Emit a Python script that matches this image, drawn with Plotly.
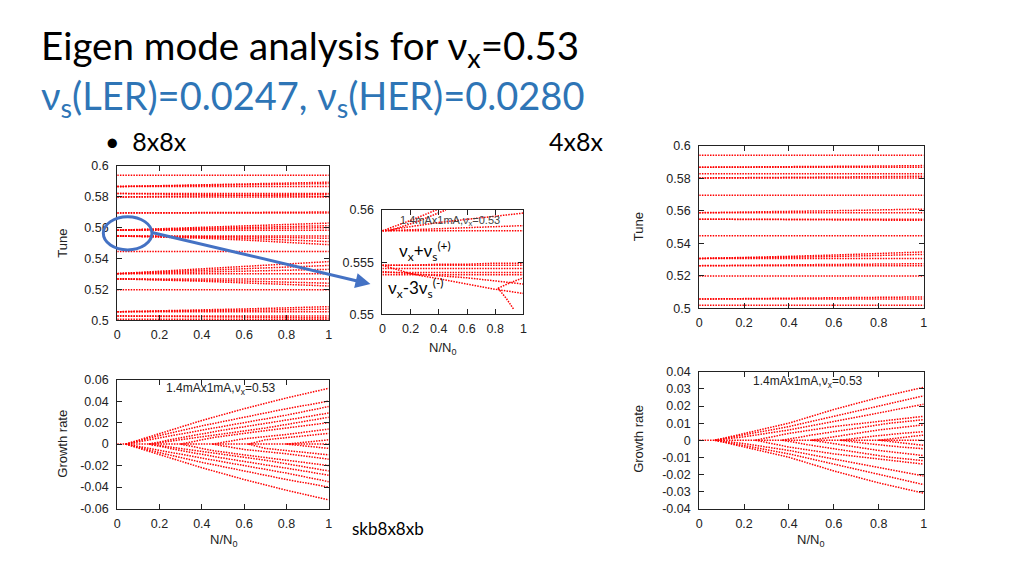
import plotly.graph_objects as go

# ---------------- data ----------------
TUNE_X = [0, 0.2, 0.4, 0.6, 0.8, 1.0]

# 8x8x tune curves (values at TUNE_X)
tune_8x8x = [
    [0.5941, 0.5941, 0.5941, 0.5941, 0.5941, 0.5941],
    [0.5867, 0.5867, 0.5867, 0.5867, 0.5867, 0.5867],
    [0.5867, 0.5872, 0.5878, 0.5884, 0.5889, 0.5895],
    [0.5867, 0.5870, 0.5874, 0.5878, 0.5882, 0.5886],
    [0.5822, 0.5822, 0.5822, 0.5822, 0.5822, 0.5822],
    [0.5822, 0.5819, 0.5815, 0.5811, 0.5807, 0.5803],
    [0.5799, 0.5799, 0.5799, 0.5799, 0.5799, 0.5799],
    [0.5799, 0.5802, 0.5806, 0.5810, 0.5814, 0.5818],
    [0.5696, 0.5696, 0.5696, 0.5696, 0.5696, 0.5696],
    [0.5696, 0.5696, 0.5697, 0.5698, 0.5700, 0.5702],
    [0.5584, 0.5584, 0.5584, 0.5584, 0.5584, 0.5584],
    [0.5584, 0.5594, 0.5604, 0.5613, 0.5622, 0.5630],
    [0.5584, 0.5589, 0.5596, 0.5602, 0.5608, 0.5613],
    [0.5584, 0.5586, 0.5590, 0.5594, 0.5597, 0.5600],
    [0.5546, 0.5546, 0.5546, 0.5546, 0.5546, 0.5546],
    [0.5546, 0.5540, 0.5532, 0.5520, 0.5503, 0.5490],
    [0.5546, 0.5543, 0.5538, 0.5531, 0.5521, 0.5510],
    [0.5546, 0.5545, 0.5543, 0.5540, 0.5536, 0.5531],
    [0.5446, 0.5446, 0.5446, 0.5446, 0.5446, 0.5446],
    [0.5302, 0.5302, 0.5302, 0.5302, 0.5302, 0.5302],
    [0.5302, 0.5318, 0.5335, 0.5350, 0.5366, 0.5380],
    [0.5302, 0.5312, 0.5323, 0.5334, 0.5345, 0.5355],
    [0.5302, 0.5306, 0.5312, 0.5318, 0.5324, 0.5330],
    [0.5268, 0.5268, 0.5268, 0.5268, 0.5268, 0.5268],
    [0.5268, 0.5262, 0.5253, 0.5242, 0.5232, 0.5222],
    [0.5268, 0.5265, 0.5260, 0.5254, 0.5247, 0.5240],
    [0.5197, 0.5197, 0.5197, 0.5197, 0.5197, 0.5197],
    [0.5055, 0.5055, 0.5055, 0.5055, 0.5055, 0.5055],
    [0.5055, 0.5060, 0.5066, 0.5073, 0.5080, 0.5088],
    [0.5055, 0.5057, 0.5060, 0.5064, 0.5068, 0.5072],
    [0.5027, 0.5027, 0.5027, 0.5027, 0.5027, 0.5027],
    [0.5027, 0.5025, 0.5022, 0.5020, 0.5017, 0.5015],
    [0.5006, 0.5006, 0.5006, 0.5006, 0.5006, 0.5006],
]

# 4x8x tune curves (values at TUNE_X)
tune_4x8x = [
    [0.5940, 0.5940, 0.5940, 0.5940, 0.5940, 0.5940],
    [0.5867, 0.5867, 0.5867, 0.5867, 0.5867, 0.5867],
    [0.5867, 0.5868, 0.5870, 0.5872, 0.5874, 0.5877],
    [0.5827, 0.5827, 0.5827, 0.5827, 0.5827, 0.5827],
    [0.5801, 0.5801, 0.5801, 0.5801, 0.5801, 0.5801],
    [0.5801, 0.5802, 0.5804, 0.5806, 0.5809, 0.5812],
    [0.5695, 0.5695, 0.5695, 0.5695, 0.5695, 0.5695],
    [0.5588, 0.5588, 0.5588, 0.5588, 0.5588, 0.5588],
    [0.5588, 0.5591, 0.5595, 0.5600, 0.5605, 0.5610],
    [0.5548, 0.5548, 0.5548, 0.5548, 0.5548, 0.5548],
    [0.5548, 0.5547, 0.5546, 0.5545, 0.5543, 0.5541],
    [0.5446, 0.5446, 0.5446, 0.5446, 0.5446, 0.5446],
    [0.5307, 0.5307, 0.5307, 0.5307, 0.5307, 0.5307],
    [0.5307, 0.5312, 0.5320, 0.5328, 0.5337, 0.5347],
    [0.5307, 0.5309, 0.5314, 0.5319, 0.5325, 0.5332],
    [0.5263, 0.5263, 0.5263, 0.5263, 0.5263, 0.5263],
    [0.5263, 0.5265, 0.5268, 0.5270, 0.5272, 0.5275],
    [0.5199, 0.5199, 0.5199, 0.5199, 0.5199, 0.5199],
    [0.5058, 0.5058, 0.5058, 0.5058, 0.5058, 0.5058],
    [0.5058, 0.5060, 0.5062, 0.5065, 0.5068, 0.5071],
    [0.5020, 0.5020, 0.5020, 0.5020, 0.5020, 0.5020],
]

# zoomed tune window (8x8x), each curve has its own x points
zoom_x = [
    [0, 1], [0, 0.2, 0.4, 0.6, 0.8, 1], [0, 0.2, 0.4, 0.6, 0.8, 1],
    [0, 0.2, 0.4], [0.05, 0.25, 0.45],
    [0, 1], [0, 1], [0, 1], [0, 1],
    [0, 0.2, 0.4, 0.6, 0.8, 1], [0, 0.2, 0.4, 0.6, 0.8, 1],
    [0, 0.2, 0.4, 0.6, 0.8, 1],
    [0.82, 0.9, 1.0], [0.82, 0.88, 0.93],
]
zoom_y = [
    [0.5580, 0.5580], [0.5580, 0.5584, 0.5588, 0.5591, 0.5594, 0.5597],
    [0.5580, 0.5581, 0.5582, 0.5583, 0.5584, 0.5585],
    [0.5580, 0.5590, 0.5601], [0.5580, 0.5589, 0.5600],
    [0.5547, 0.5547], [0.5544, 0.5544], [0.5540, 0.5540], [0.5538, 0.5538],
    [0.5547, 0.5539, 0.5534, 0.5529, 0.5524, 0.5520],
    [0.5541, 0.5539, 0.5537, 0.5535, 0.5532, 0.5529],
    [0.5547, 0.5547, 0.5548, 0.5548, 0.5549, 0.5549],
    [0.5525, 0.5530, 0.5535], [0.5525, 0.5515, 0.5505],
]

# 8x8x growth rate curves
grow_8x8x_x = [
    [0, 1],
    [0.04, 0.2, 0.4, 0.6, 0.8, 1], [0.04, 0.2, 0.4, 0.6, 0.8, 1],
    [0.04, 0.2, 0.4, 0.6, 0.8, 1],
    [0.15, 0.3, 0.5, 0.7, 0.85, 1], [0.15, 0.3, 0.5, 0.7, 0.85, 1],
    [0.3, 0.45, 0.6, 0.8, 1], [0.45, 0.6, 0.8, 1], [0.62, 0.7, 0.85, 1], [0.8, 0.9, 1],
    [0.04, 0.2, 0.4, 0.6, 0.8, 1], [0.04, 0.2, 0.4, 0.6, 0.8, 1],
    [0.04, 0.2, 0.4, 0.6, 0.8, 1],
    [0.15, 0.3, 0.5, 0.7, 0.85, 1], [0.15, 0.3, 0.5, 0.7, 0.85, 1],
    [0.3, 0.45, 0.6, 0.8, 1], [0.45, 0.6, 0.8, 1], [0.62, 0.7, 0.85, 1], [0.8, 0.9, 1],
]
grow_8x8x_y = [
    [0, 0],
    [0, 0.010, 0.022, 0.033, 0.043, 0.052], [0, 0.008, 0.017, 0.025, 0.033, 0.040],
    [0, 0.006, 0.013, 0.020, 0.027, 0.035],
    [0, 0.006, 0.013, 0.019, 0.024, 0.029], [0, 0.004, 0.009, 0.015, 0.020, 0.025],
    [0, 0.006, 0.010, 0.015, 0.020], [0, 0.005, 0.009, 0.014], [0, 0.004, 0.007, 0.010], [0, 0.002, 0.004],
    [0, -0.010, -0.022, -0.033, -0.043, -0.052], [0, -0.008, -0.017, -0.025, -0.033, -0.040],
    [0, -0.006, -0.013, -0.020, -0.027, -0.035],
    [0, -0.006, -0.013, -0.019, -0.024, -0.029], [0, -0.004, -0.009, -0.015, -0.020, -0.025],
    [0, -0.006, -0.010, -0.015, -0.020], [0, -0.005, -0.009, -0.014], [0, -0.004, -0.007, -0.010], [0, -0.002, -0.004],
]

# 4x8x growth rate curves
grow_4x8x_x = [
    [0, 1],
    [0.07, 0.2, 0.4, 0.6, 0.8, 1], [0.07, 0.2, 0.4, 0.6, 0.8, 1], [0.07, 0.2, 0.4, 0.6, 0.8, 1],
    [0.25, 0.4, 0.6, 0.8, 1], [0.37, 0.5, 0.7, 0.85, 1], [0.5, 0.65, 0.8, 1],
    [0.63, 0.75, 0.9, 1], [0.8, 0.9, 1],
    [0.07, 0.2, 0.4, 0.6, 0.8, 1], [0.07, 0.2, 0.4, 0.6, 0.8, 1], [0.07, 0.2, 0.4, 0.6, 0.8, 1],
    [0.25, 0.4, 0.6, 0.8, 1], [0.37, 0.5, 0.7, 0.85, 1], [0.5, 0.65, 0.8, 1],
    [0.63, 0.75, 0.9, 1], [0.8, 0.9, 1],
]
grow_4x8x_y = [
    [0, 0],
    [0, 0.004, 0.010, 0.018, 0.025, 0.031], [0, 0.003, 0.008, 0.014, 0.020, 0.026],
    [0, 0.002, 0.006, 0.011, 0.016, 0.021],
    [0, 0.004, 0.008, 0.011, 0.014], [0, 0.003, 0.007, 0.010, 0.012], [0, 0.003, 0.006, 0.009],
    [0, 0.002, 0.004, 0.005], [0, 0.0015, 0.003],
    [0, -0.004, -0.010, -0.018, -0.025, -0.031], [0, -0.003, -0.008, -0.014, -0.020, -0.026],
    [0, -0.002, -0.006, -0.011, -0.016, -0.021],
    [0, -0.004, -0.008, -0.011, -0.014], [0, -0.003, -0.007, -0.010, -0.012], [0, -0.003, -0.006, -0.009],
    [0, -0.002, -0.004, -0.005], [0, -0.0015, -0.003],
]

X_TICKS = [0, 0.2, 0.4, 0.6, 0.8, 1]
TUNE_TICKS = [0.5, 0.52, 0.54, 0.56, 0.58, 0.6]
ZOOM_TICKS = [0.55, 0.555, 0.56]
GROW8_TICKS = [-0.06, -0.04, -0.02, 0, 0.02, 0.04, 0.06]
GROW4_TICKS = [-0.04, -0.03, -0.02, -0.01, 0, 0.01, 0.02, 0.03, 0.04]

# ---------------- figure ----------------
W, H = 1024, 576
RED = "#ff0000"
BLUE = "#4472C4"
TITLE_BLUE = "#2E75B6"
TXT_FONT = "Lato, Carlito, 'Open Sans', sans-serif"
PLOT_FONT = "Liberation Sans, Arial, sans-serif"


def px_dom_x(a, b):
    return [a / W, b / W]


def px_dom_y(top, bottom):
    return [1 - bottom / H, 1 - top / H]


def px_x(p):
    return p / W


def px_y(p):
    return 1 - p / H


fig = go.Figure()
line_style = dict(color=RED, width=1.5, dash="1.5px,1.2px")

for ys in tune_8x8x:
    fig.add_trace(go.Scatter(x=TUNE_X, y=ys, mode="lines", line=line_style,
                             xaxis="x", yaxis="y", showlegend=False, hoverinfo="skip"))
for xs, ys in zip(grow_8x8x_x, grow_8x8x_y):
    fig.add_trace(go.Scatter(x=xs, y=ys, mode="lines", line=line_style,
                             xaxis="x2", yaxis="y2", showlegend=False, hoverinfo="skip"))
for xs, ys in zip(zoom_x, zoom_y):
    fig.add_trace(go.Scatter(x=xs, y=ys, mode="lines", line=line_style,
                             xaxis="x3", yaxis="y3", showlegend=False, hoverinfo="skip"))
for ys in tune_4x8x:
    fig.add_trace(go.Scatter(x=TUNE_X, y=ys, mode="lines", line=line_style,
                             xaxis="x4", yaxis="y4", showlegend=False, hoverinfo="skip"))
for xs, ys in zip(grow_4x8x_x, grow_4x8x_y):
    fig.add_trace(go.Scatter(x=xs, y=ys, mode="lines", line=line_style,
                             xaxis="x5", yaxis="y5", showlegend=False, hoverinfo="skip"))


def ax(domain, rng, ticks, anchor, standoff):
    return dict(domain=domain, range=rng, tickvals=ticks,
                ticktext=["%g" % v for v in ticks], anchor=anchor,
                showline=True, mirror="ticks", linecolor="#222", linewidth=1,
                ticks="inside", ticklen=5, tickcolor="#222", showgrid=False,
                zeroline=False, tickfont=dict(family=PLOT_FONT, size=12.5, color="#222"),
                ticklabelstandoff=standoff, fixedrange=True)


fig.update_layout(
    width=W, height=H, margin=dict(l=0, r=0, t=0, b=0),
    paper_bgcolor="white", plot_bgcolor="white",
    xaxis=ax(px_dom_x(115, 328), [0, 1], X_TICKS, "y", 3),
    yaxis=ax(px_dom_y(163, 321), [0.5, 0.6], TUNE_TICKS, "x", 5),
    xaxis2=ax(px_dom_x(115, 328), [0, 1], X_TICKS, "y2", 3),
    yaxis2=ax(px_dom_y(382, 514), [-0.06, 0.06], GROW8_TICKS, "x2", 5),
    xaxis3=ax(px_dom_x(382, 524), [0, 1], X_TICKS, "y3", 3),
    yaxis3=ax(px_dom_y(208, 315), [0.55, 0.56], ZOOM_TICKS, "x3", 5),
    xaxis4=ax(px_dom_x(701, 927), [0, 1], X_TICKS, "y4", 3),
    yaxis4=ax(px_dom_y(142, 309), [0.5, 0.6], TUNE_TICKS, "x4", 5),
    xaxis5=ax(px_dom_x(701, 927), [0, 1], X_TICKS, "y5", 3),
    yaxis5=ax(px_dom_y(374, 514), [-0.04, 0.04], GROW4_TICKS, "x5", 5),
)

ann = []


def text(x, y, s, size, color="black", family=TXT_FONT, xanchor="left", angle=0):
    ann.append(dict(x=px_x(x), y=px_y(y), xref="paper", yref="paper", text=s,
                    showarrow=False, xanchor=xanchor, yanchor="middle",
                    textangle=angle, font=dict(family=family, size=size, color=color)))


# slide texts
text(36, 42, "Eigen mode analysis for ν<sub>x</sub>=0.53", 38.5)
text(36, 93, "ν<sub>s</sub>(LER)=0.0247, ν<sub>s</sub>(HER)=0.0280", 38, TITLE_BLUE)
text(101, 137, "•  8x8x", 25)
text(548, 137, "4x8x", 25)
text(349, 534, "skb8x8xb", 17)

# axis titles
text(60, 242, "Tune", 13, "#222", PLOT_FONT, "center", -90)
text(60, 448, "Growth rate", 13, "#222", PLOT_FONT, "center", -90)
text(222, 547, "N/N<sub>0</sub>", 13, "#222", PLOT_FONT, "center")
text(443, 350, "N/N<sub>0</sub>", 13, "#222", PLOT_FONT, "center")
text(640, 225, "Tune", 13, "#222", PLOT_FONT, "center", -90)
text(640, 443, "Growth rate", 13, "#222", PLOT_FONT, "center", -90)
text(813, 547, "N/N<sub>0</sub>", 13, "#222", PLOT_FONT, "center")

# key labels
text(220, 392, "1.4mAx1mA,ν<sub>x</sub>=0.53", 12, "#222", PLOT_FONT, "center")
text(811, 384, "1.4mAx1mA,ν<sub>x</sub>=0.53", 12, "#222", PLOT_FONT, "center")
text(450, 219, "1.4mAx1mA,ν<sub>x</sub>=0.53", 11, "#444", PLOT_FONT, "center")
text(397, 250, "ν<sub>x</sub>+ν<sub>s</sub><sup>(+)</sup>", 17, "black", TXT_FONT)
text(386, 288, "ν<sub>x</sub>-3ν<sub>s</sub><sup>(-)</sup>", 17, "black", TXT_FONT)

# arrow
ann.append(dict(x=px_x(370), y=px_y(284), xref="paper", yref="paper",
                ax=150 - 370, ay=232 - 284, axref="pixel", ayref="pixel",
                showarrow=True, arrowhead=2, arrowsize=1, arrowwidth=3,
                arrowcolor=BLUE, text=""))

fig.update_layout(annotations=ann)
fig.add_shape(type="circle", xref="paper", yref="paper",
              x0=px_x(101), x1=px_x(150), y0=px_y(249), y1=px_y(215),
              line=dict(color=BLUE, width=3))

fig.write_html("out.html", config={"displayModeBar": False},
               post_script="document.body.style.margin='0px';")
